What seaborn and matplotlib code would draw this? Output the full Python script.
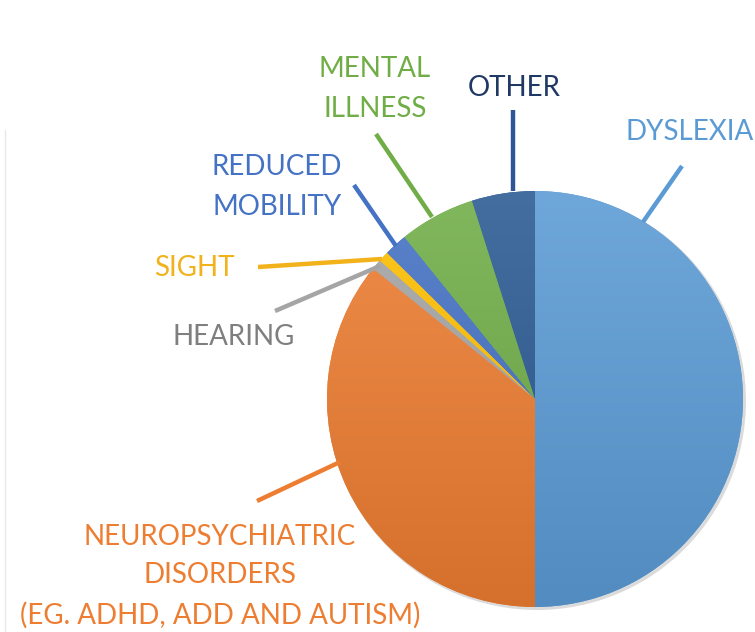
import matplotlib
matplotlib.use("Agg")
import matplotlib.pyplot as plt
import seaborn as sns
import numpy as np
from matplotlib.colors import to_rgb

# Data (shares, in percent)
categories = ["DYSLEXIA", "NEUROPSYCHIATRIC\nDISORDERS\n(EG. ADHD, ADD AND AUTISM)",
              "HEARING", "SIGHT", "REDUCED\nMOBILITY", "MENTAL\nILLNESS", "OTHER"]
shares = [50.0, 35.8, 0.8, 0.8, 1.8, 5.9, 4.9]
slice_colors = ["#5B9BD5", "#ED7D31", "#A5A5A5", "#FFC000", "#4472C4", "#70AD47", "#2B5A93"]
text_colors = ["#5B9BD5", "#ED7D31", "#7F7F7F", "#F2B21C", "#4472C4", "#70AD47", "#1F3864"]
line_colors = ["#5B9BD5", "#ED7D31", "#A5A5A5", "#F2B21C", "#4472C4", "#70AD47", "#2F5597"]

W, H = 755, 632
sns.set_theme(style="white")
plt.rcParams['font.family'] = ['Lato', 'DejaVu Sans']

fig = plt.figure(figsize=(W / 100, H / 100), dpi=100)
ax = fig.add_axes([0, 0, 1, 1])

def P(x, y):
    # pixel position (from top-left) to data coords
    return x, H - y

cx, cy = P(535, 399)
r = 208

# faint shadow behind the pie
shadow = plt.Circle((cx + 2, cy - 2), r + 1, color="#999999", alpha=0.35, lw=0, zorder=0.5)
ax.add_patch(shadow)

wedges, _ = ax.pie(shares, colors=slice_colors, startangle=90, counterclock=False,
                   center=(cx, cy), radius=r, wedgeprops=dict(linewidth=0),
                   frame=True)

# soft vertical gradient on each slice, like the office-style original
grad = np.linspace(0, 1, 256)[:, None, None]
for w, c in zip(wedges, slice_colors):
    rgb = np.array(to_rgb(c))
    top = rgb + (1 - rgb) * 0.12
    bot = rgb * 0.90
    img = top * (1 - grad) + bot * grad
    im = ax.imshow(img, extent=[cx - r, cx + r, cy - r, cy + r], origin="upper",
                   aspect="auto", zorder=w.get_zorder() + 0.1)
    im.set_clip_path(w)

# labels and leader lines (pixel layout)
label_pos = [(690, 132), (220, 576), (234, 337), (194, 268), (277, 187), (375, 89), (514, 88)]
spacing = [1.6, 1.6, 1.6, 1.6, 1.7, 1.7, 1.6]
leaders = [((682, 166), (643, 222)), ((257, 501), (340, 462)), ((275, 311), (380, 266)),
           ((258, 267), (382, 259)), ((354, 185), (396, 246)), ((376, 134), (432, 217)),
           ((513, 110), (513, 191))]

for name, (lx, ly), ls, (p0, p1), tc, lc in zip(categories, label_pos, spacing, leaders,
                                               text_colors, line_colors):
    x0, y0 = P(*p0)
    x1, y1 = P(*p1)
    ax.plot([x0, x1], [y0, y1], color=lc, lw=3.2, solid_capstyle="butt", zorder=5)
    ax.text(*P(lx, ly), name, color=tc, fontsize=20, ha="center", va="center",
            linespacing=ls, zorder=6)

# thin frame edge at the left of the original crop
ax.plot([5, 5], [0, H - 130], color="#E8E8E8", lw=1, zorder=1)

ax.set_xlim(0, W)
ax.set_ylim(0, H)
ax.set_aspect("equal")
ax.axis("off")

fig.savefig("out.png", dpi=100, facecolor="white")
